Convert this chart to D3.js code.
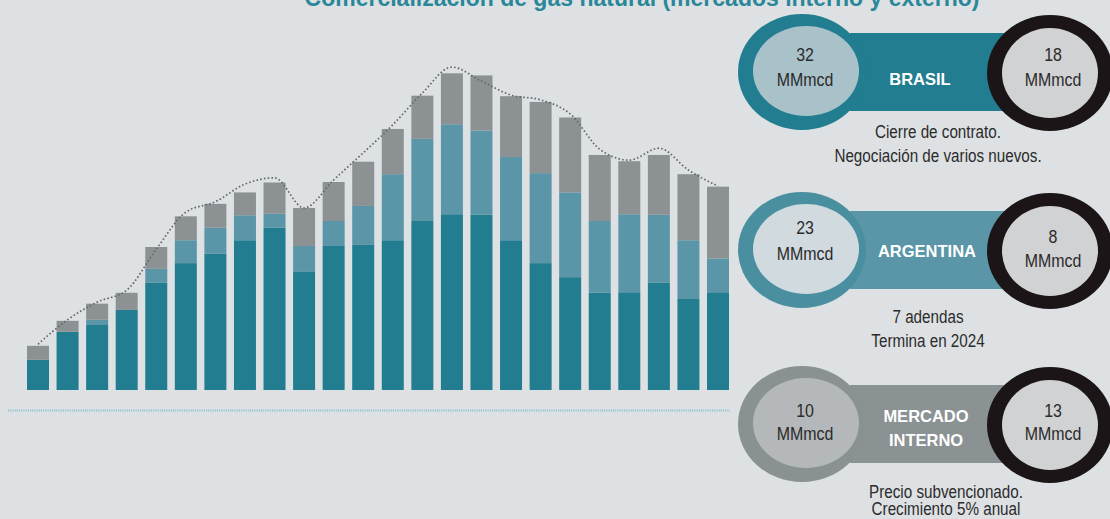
<!DOCTYPE html>
<html>
<head>
<meta charset="utf-8">
<script src="https://cdn.jsdelivr.net/npm/d3@7/dist/d3.min.js"></script>
<style>
  html, body { margin: 0; padding: 0; background: #dde1e4; }
  svg { display: block; }
</style>
</head>
<body>
<svg id="chart" width="1110" height="519"></svg>
<script>
// ---------- DATA ----------
const years = ["2000","2001","2002","2003","2004","2005","2006","2007","2008","2009","2010","2011",
               "2012","2013","2014","2015","2016","2017","2018","2019","2020","2021","2022","2023"];
const brasil    = [5.8, 11.2, 12.5, 15.4, 20.6, 24.4, 26.2, 28.8, 31.2, 22.7, 27.7, 27.9,
                   28.8, 32.5, 33.8, 33.7, 28.8, 24.4, 21.7, 18.7, 18.8, 20.6, 17.5, 18.8];
const argentina = [0, 0, 1.0, 0, 2.7, 4.4, 5.0, 4.8, 2.7, 5.0, 4.8, 7.5,
                   12.7, 15.8, 17.3, 16.2, 16.0, 17.3, 16.3, 13.8, 15.0, 13.1, 11.3, 6.5];
const interno   = [2.7, 2.1, 3.1, 3.3, 4.2, 4.6, 4.6, 4.4, 6.0, 7.3, 7.5, 8.5,
                   8.7, 8.3, 9.8, 10.6, 11.7, 13.7, 14.4, 12.7, 10.2, 11.5, 12.7, 13.8];
const capacidad = [8.8, 13.5, 16.9, 19.2, 27.1, 34.2, 36.2, 39.6, 40.8, 35.0, 40.4, 45.6,
                   51.0, 57.1, 62.1, 59.4, 56.7, 55.8, 53.1, 46.3, 44.2, 46.5, 42.3, 39.2];

const title = "Comercialización de gas natural (mercados interno y externo)";
const marketNames = [["BRASIL"], ["ARGENTINA"], ["MERCADO", "INTERNO"]];
const leftValues  = ["32", "23", "10"];
const rightValues = ["18", "8", "13"];
const unit = "MMmcd";
const notes = [["Cierre de contrato.", "Negociación de varios nuevos."],
               ["7 adendas", "Termina en 2024"],
               ["Precio subvencionado.", "Crecimiento 5% anual"]];

// ---------- STYLE ----------
const seriesKeys = ["brasil", "argentina", "interno"];
const seriesColors = { brasil: "#217d8f", argentina: "#5a96a7", interno: "#8c9293" };
const badgeStyles = [
  { ring: "#217d8f", inner: "#a9c2ca", bar: "#217d8f", cy: 72,  valDy: [-17, 8], rDy: [-17, 8], nameX: 920, nameY: [79], noteX: 938, noteY: [132, 156] },
  { ring: "#4a8fa0", inner: "#d0dadf", bar: "#5a96a7", cy: 250, valDy: [-22, 4], rDy: [-13, 11], nameX: 927, nameY: [251], noteX: 928, noteY: [317, 341] },
  { ring: "#8a9193", inner: "#b4b8ba", bar: "#8b9294", cy: 424, valDy: [-13, 10], rDy: [-13, 10], nameX: 926, nameY: [416, 440], noteX: 946, noteY: [492, 509] }
];
const baseFont = "'Liberation Sans', Arial, sans-serif";

const svg = d3.select("#chart");
svg.append("rect").attr("width", 1110).attr("height", 519).attr("fill", "#dde1e4");

// condensed text helper (horizontal squeeze of a regular face)
function condText(parent, x, y, txt, size, squeeze, color) {
  parent.append("text")
    .attr("transform", `translate(${x},${y}) scale(${squeeze},1)`)
    .attr("text-anchor", "middle").attr("dominant-baseline", "central")
    .attr("font-family", baseFont).attr("font-size", size).attr("fill", color)
    .text(txt);
}

// ---------- TITLE ----------
svg.append("text")
  .attr("x", 642).attr("y", 6)
  .attr("text-anchor", "middle")
  .attr("font-family", baseFont)
  .attr("font-weight", "bold")
  .attr("font-size", 23)
  .attr("fill", "#2a8799")
  .text(title);

// ---------- CHART ----------
const x = d3.scaleBand().domain(years).range([27, 729]).paddingInner(0.256).paddingOuter(0);
const y = d3.scaleLinear().domain([0, 60]).range([390, 78]);

const rows = years.map((yr, i) => ({ year: yr, brasil: brasil[i], argentina: argentina[i], interno: interno[i] }));
const stacked = d3.stack().keys(seriesKeys)(rows);

svg.append("g").selectAll("g")
  .data(stacked).join("g")
  .attr("fill", d => seriesColors[d.key])
  .selectAll("rect")
  .data(d => d).join("rect")
  .attr("x", d => x(d.data.year))
  .attr("width", x.bandwidth())
  .attr("y", d => y(d[1]))
  .attr("height", d => Math.max(0, y(d[0]) - y(d[1])));

// baseline dotted line
svg.append("line")
  .attr("x1", 8).attr("x2", 730)
  .attr("y1", 410.5).attr("y2", 410.5)
  .attr("stroke", "#86bcc8")
  .attr("stroke-width", 1.8)
  .attr("stroke-dasharray", "1,1.2");

// dotted total line
const line = d3.line()
  .x((d, i) => x(years[i]) + x.bandwidth() / 2)
  .y(d => y(d))
  .curve(d3.curveMonotoneX);
svg.append("path")
  .attr("d", line(capacidad))
  .attr("fill", "none")
  .attr("stroke", "#65686a")
  .attr("stroke-width", 1.7)
  .attr("stroke-dasharray", "1.6,2.2");

// ---------- BADGES ----------
const badges = svg.append("g").selectAll("g")
  .data(marketNames.map((n, i) => ({ name: n, left: leftValues[i], right: rightValues[i], note: notes[i], s: badgeStyles[i] })))
  .join("g");

badges.append("rect")
  .attr("x", 850).attr("width", 155)
  .attr("y", d => d.s.cy - 39).attr("height", 78)
  .attr("fill", d => d.s.bar);

badges.append("ellipse")
  .attr("cx", 802).attr("cy", d => d.s.cy)
  .attr("rx", 64).attr("ry", 58)
  .attr("fill", d => d.s.ring);
badges.append("ellipse")
  .attr("cx", 806).attr("cy", d => d.s.cy - 1)
  .attr("rx", 53).attr("ry", 45)
  .attr("fill", d => d.s.inner);

badges.append("ellipse")
  .attr("cx", 1050).attr("cy", d => d.s.cy + 1)
  .attr("rx", 63).attr("ry", 58)
  .attr("fill", "#1b1517");
badges.append("ellipse")
  .attr("cx", 1050).attr("cy", d => d.s.cy + 1)
  .attr("rx", 48).attr("ry", 45)
  .attr("fill", "#d1d2d3");

badges.each(function(d) {
  const g = d3.select(this);
  condText(g, 805, d.s.cy + d.s.valDy[0], d.left, 19, 0.84, "#2b2b2b");
  condText(g, 805, d.s.cy + d.s.valDy[1], unit, 19, 0.84, "#2b2b2b");
  condText(g, 1053, d.s.cy + d.s.rDy[0], d.right, 19, 0.84, "#2b2b2b");
  condText(g, 1053, d.s.cy + d.s.rDy[1], unit, 19, 0.84, "#2b2b2b");
  d.name.forEach((t, k) => {
    g.append("text")
      .attr("x", d.s.nameX).attr("y", d.s.nameY[k])
      .attr("text-anchor", "middle").attr("dominant-baseline", "central")
      .attr("font-family", baseFont)
      .attr("font-weight", "bold").attr("font-size", 16.5).attr("fill", "#ffffff")
      .text(t);
  });
  d.note.forEach((t, k) => {
    condText(g, d.s.noteX, d.s.noteY[k], t, 17.5, 0.87, "#2b2b2b");
  });
});
</script>
</body>
</html>
